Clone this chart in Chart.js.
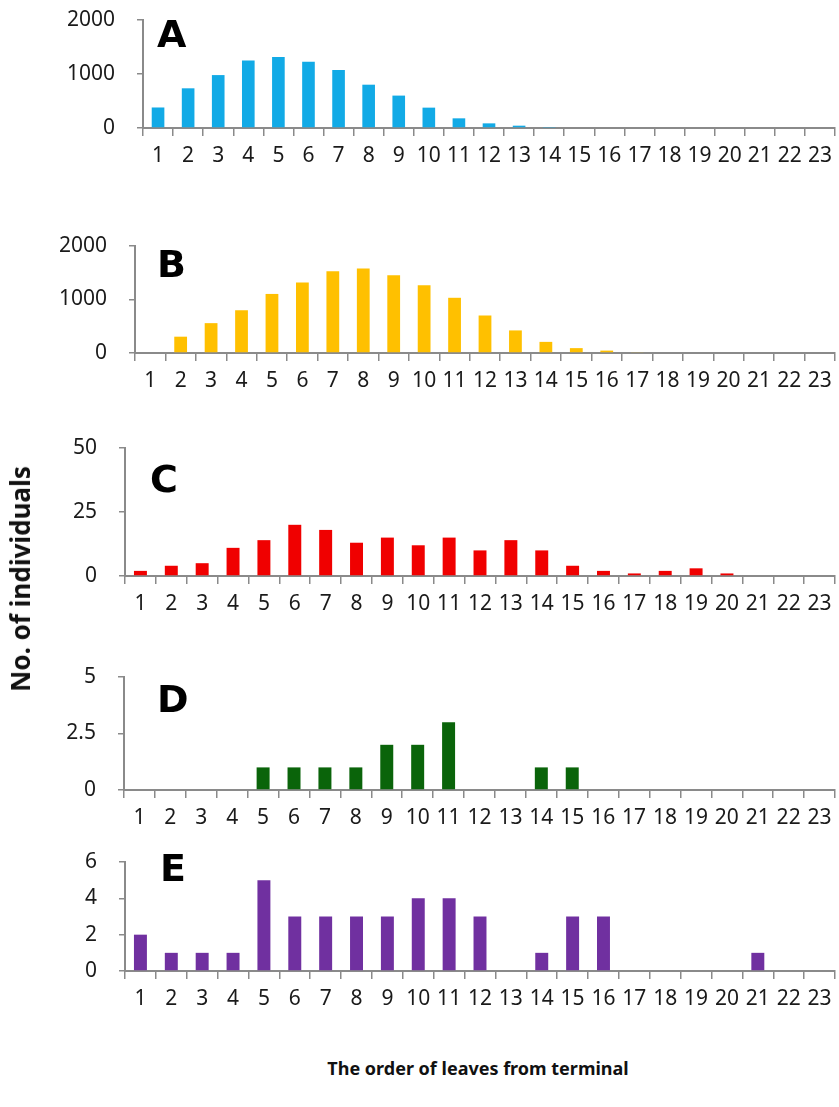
<!DOCTYPE html>
<html>
<head>
<meta charset="utf-8">
<script src="https://cdn.jsdelivr.net/npm/chart.js@4/dist/chart.umd.min.js"></script>
<style>
  body { margin: 0; background: #fff; }
  #page { position: relative; width: 839px; height: 1107px; overflow: hidden; }
  .panel { position: absolute; left: 0; width: 839px; }
  .ytitle {
    position: absolute; left: 20px; top: 579px;
    transform: translate(-50%, -50%) rotate(-90deg);
    font: bold 26px "Noto Sans", sans-serif; white-space: nowrap; color: #111;
  }
  .xtitle {
    position: absolute; left: 478px; top: 1068px;
    transform: translate(-50%, -50%);
    font: bold 18px "Noto Sans", sans-serif; white-space: nowrap; color: #111;
  }
</style>
</head>
<body>
<div id="page">
  <div class="panel" style="top:4px;height:174px"><canvas id="chartA"></canvas></div>
  <div class="panel" style="top:230px;height:173px"><canvas id="chartB"></canvas></div>
  <div class="panel" style="top:432px;height:194px"><canvas id="chartC"></canvas></div>
  <div class="panel" style="top:661px;height:179px"><canvas id="chartD"></canvas></div>
  <div class="panel" style="top:846px;height:175px"><canvas id="chartE"></canvas></div>
  <div class="ytitle">No. of individuals</div>
  <div class="xtitle">The order of leaves from terminal</div>
</div>
<script>
// urutan daun dari ujung (1..23)
const leafOrder = ["1","2","3","4","5","6","7","8","9","10","11","12","13","14","15","16","17","18","19","20","21","22","23"];

// jumlah individu per panel
const countsA = [380, 735, 980, 1250, 1315, 1228, 1074, 802, 600, 377, 179, 86, 43, 8, 0, 0, 0, 0, 0, 0, 0, 0, 0];
const countsB = [0, 305, 558, 799, 1104, 1318, 1526, 1578, 1455, 1266, 1032, 701, 422, 208, 91, 45, 12, 0, 0, 0, 0, 0, 0];
const countsC = [2, 4, 5, 11, 14, 20, 18, 13, 15, 12, 15, 10, 14, 10, 4, 2, 1, 2, 3, 1, 0, 0, 0];
const countsD = [0, 0, 0, 0, 1, 1, 1, 1, 2, 2, 3, 0, 0, 1, 1, 0, 0, 0, 0, 0, 0, 0, 0];
const countsE = [2, 1, 1, 1, 5, 3, 3, 3, 3, 4, 4, 3, 0, 1, 3, 3, 0, 0, 0, 0, 1, 0, 0];

// batas sumbu y dan jarak tick
const yMaxA = 2000, yStepA = 1000;
const yMaxB = 2000, yStepB = 1000;
const yMaxC = 50, yStepC = 25;
const yMaxD = 5, yStepD = 2.5;
const yMaxE = 6, yStepE = 2;

const axisGrey = "#8a8a8a";
const TOP_PAD = 16;
const X_AXIS_H = 50;
const tickFont = { family: "Noto Sans", size: 21 };

// Plugin kecil untuk huruf panel (A, B, C, ...)
const panelLetter = {
    id: "panelLetter",
    afterDraw(chart, args, opts) {
        const ctx = chart.ctx;
        ctx.save();
        ctx.font = 'bold 38px "DejaVu Sans", sans-serif';
        ctx.fillStyle = "#000";
        ctx.textBaseline = "alphabetic";
        ctx.textAlign = "left";
        ctx.fillText(opts.text, opts.x, opts.y);
        ctx.restore();
    }
};

function makePanel(id, data, color, yMax, yStep, plotLeft, letter) {
    const canvas = document.getElementById(id);
    new Chart(canvas.getContext("2d"), {
        type: "bar",
        data: {
            labels: leafOrder,
            datasets: [{
                data: data,
                backgroundColor: color,
                barPercentage: 0.42,
                categoryPercentage: 1,
            }],
        },
        options: {
            responsive: true,
            maintainAspectRatio: false,
            animation: false,
            layout: { padding: { top: TOP_PAD, right: 4, bottom: 0, left: 0 } },
            plugins: {
                legend: { display: false },
                tooltip: { enabled: false },
                panelLetter: letter,
            },
            scales: {
                x: {
                    afterFit(scale) {
                        scale.height = X_AXIS_H;
                        scale.paddingLeft = 0;
                        scale.paddingRight = 0;
                    },
                    border: { color: axisGrey, width: 2 },
                    grid: {
                        offset: true,
                        drawOnChartArea: false,
                        tickLength: 8,
                        color: axisGrey,
                        lineWidth: 1.5,
                    },
                    ticks: {
                        autoSkip: false,
                        maxRotation: 0,
                        minRotation: 0,
                        padding: 7,
                        color: "#1a1a1a",
                        font: tickFont,
                    },
                },
                y: {
                    min: 0,
                    max: yMax,
                    afterFit(scale) {
                        // lebar sumbu y tetap supaya area plot mulai di plotLeft
                        scale.width = plotLeft;
                        scale.paddingTop = 0;
                        scale.paddingBottom = 0;
                    },
                    border: { color: axisGrey, width: 2 },
                    grid: {
                        drawOnChartArea: false,
                        tickLength: 6,
                        color: axisGrey,
                        lineWidth: 1.5,
                    },
                    ticks: {
                        stepSize: yStep,
                        padding: 22,
                        color: "#1a1a1a",
                        font: tickFont,
                        callback: v => String(v),
                    },
                },
            },
        },
        plugins: [panelLetter],
    });
}

makePanel("chartA", countsA, "#12aae6", yMaxA, yStepA, 143, { text: "A", x: 157, y: 43 });
makePanel("chartB", countsB, "#ffc000", yMaxB, yStepB, 135, { text: "B", x: 157, y: 47 });
makePanel("chartC", countsC, "#f00000", yMaxC, yStepC, 125, { text: "C", x: 150, y: 60 });
makePanel("chartD", countsD, "#0a640a", yMaxD, yStepD, 124, { text: "D", x: 157, y: 51 });
makePanel("chartE", countsE, "#7030a0", yMaxE, yStepE, 125, { text: "E", x: 160, y: 35 });
</script>
</body>
</html>
